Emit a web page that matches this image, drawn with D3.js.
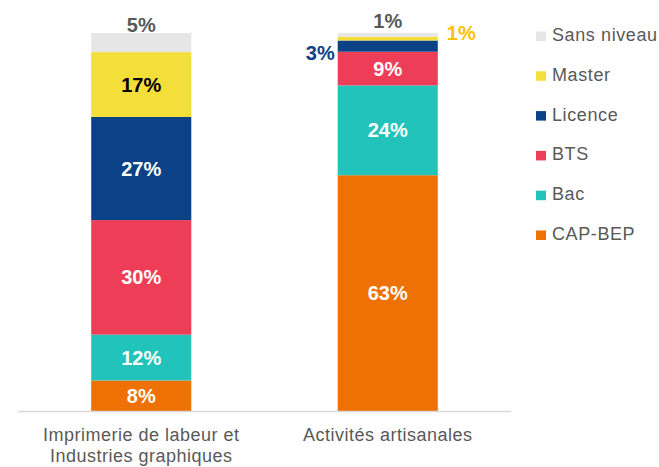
<!DOCTYPE html>
<html>
<head>
<meta charset="utf-8">
<script src="https://cdn.jsdelivr.net/npm/d3@7"></script>
<style>
  html, body { margin: 0; padding: 0; background: #fff; }
  svg { display: block; font-family: "Liberation Sans", Arial, sans-serif; }
</style>
</head>
<body>
<svg id="chart" width="659" height="467"></svg>
<script>
// Categories (x axis), two lines each
const categories = ["Imprimerie de labeur et\nIndustries graphiques", "Activités artisanales"];
// Series, bottom to top
const seriesNames = ["CAP-BEP", "Bac", "BTS", "Licence", "Master", "Sans niveau"];
const seriesColors = ["#ED7103", "#22C3BA", "#EE3D56", "#0B4287", "#F4DF3A", "#E6E6E6"];
// Shares (%) per series, one value per category
const capBep = [8, 63];
const bac = [12, 24];
const bts = [30, 9];
const licence = [27, 3];
const master = [17, 1];
const sansNiveau = [5, 1];

const valuesBySeries = [capBep, bac, bts, licence, master, sansNiveau];
const rows = categories.map((c, i) => {
  const r = { category: c };
  seriesNames.forEach((s, k) => { r[s] = valuesBySeries[k][i]; });
  return r;
});

const svg = d3.select("#chart");
const textGrey = "#595959";

const x = d3.scaleBand().domain(categories).range([18, 511])
  .paddingInner(0.594).paddingOuter(0.297);
const y = d3.scaleLinear().domain([0, 1]).range([411, 33]);

const stack = d3.stack().keys(seriesNames).offset(d3.stackOffsetExpand);
const layers = stack(rows);

// Bars
const g = svg.append("g");
layers.forEach((layer, k) => {
  g.selectAll(null).data(layer).enter().append("rect")
    .attr("x", d => x(d.data.category))
    .attr("width", x.bandwidth())
    .attr("y", d => y(d[1]))
    .attr("height", d => y(d[0]) - y(d[1]))
    .attr("fill", seriesColors[k]);
});

// Baseline
svg.append("line")
  .attr("x1", 18).attr("x2", 511)
  .attr("y1", 411.5).attr("y2", 411.5)
  .attr("stroke", "#D9D9D9").attr("stroke-width", 1.3);

// Value labels
layers.forEach((layer, k) => {
  const name = seriesNames[k];
  layer.forEach((d, i) => {
    const v = d.data[name];
    const left = x(d.data.category), right = left + x.bandwidth();
    const cx = left + x.bandwidth() / 2;
    const top = y(d[1]), bot = y(d[0]);
    let tx = cx, ty = (top + bot) / 2 + 7, fill = "#fff", anchor = "middle";
    if (name === "Master") fill = "#000";
    if (name === "Sans niveau") { ty = i === 0 ? top - 1 : top - 5; fill = textGrey; }
    if (i === 1) {
      if (name === "Licence") { tx = left - 3; anchor = "end"; fill = "#0B4287"; ty = bot + 8; }
      if (name === "Master") { tx = right + 9; anchor = "start"; fill = "#FFC000"; ty = bot; }
    }
    svg.append("text")
      .attr("x", tx).attr("y", ty)
      .attr("text-anchor", anchor)
      .attr("font-size", 20)
      .attr("font-weight", "bold")
      .attr("fill", fill)
      .text(v + "%");
  });
});

// Category labels
categories.forEach(c => {
  const cx = x(c) + x.bandwidth() / 2;
  const t = svg.append("text")
    .attr("x", cx)
    .attr("y", 441)
    .attr("text-anchor", "middle")
    .attr("font-size", 18)
    .attr("letter-spacing", 0.5)
    .attr("fill", textGrey);
  c.split("\n").forEach((line, j) => {
    t.append("tspan").attr("x", cx).attr("dy", j === 0 ? 0 : 21).text(line);
  });
});

// Legend, top to bottom
const legendOrder = seriesNames.slice().reverse();
const legendColors = seriesColors.slice().reverse();
const lg = svg.append("g");
legendOrder.forEach((name, i) => {
  const base = 41 + i * 39.8;
  lg.append("rect").attr("x", 536).attr("y", base - 9.5).attr("width", 10).attr("height", 9.5)
    .attr("fill", legendColors[i]);
  lg.append("text").attr("x", 552).attr("y", base)
    .attr("font-size", 18).attr("letter-spacing", 0.6)
    .attr("fill", textGrey).text(name);
});
</script>
</body>
</html>
